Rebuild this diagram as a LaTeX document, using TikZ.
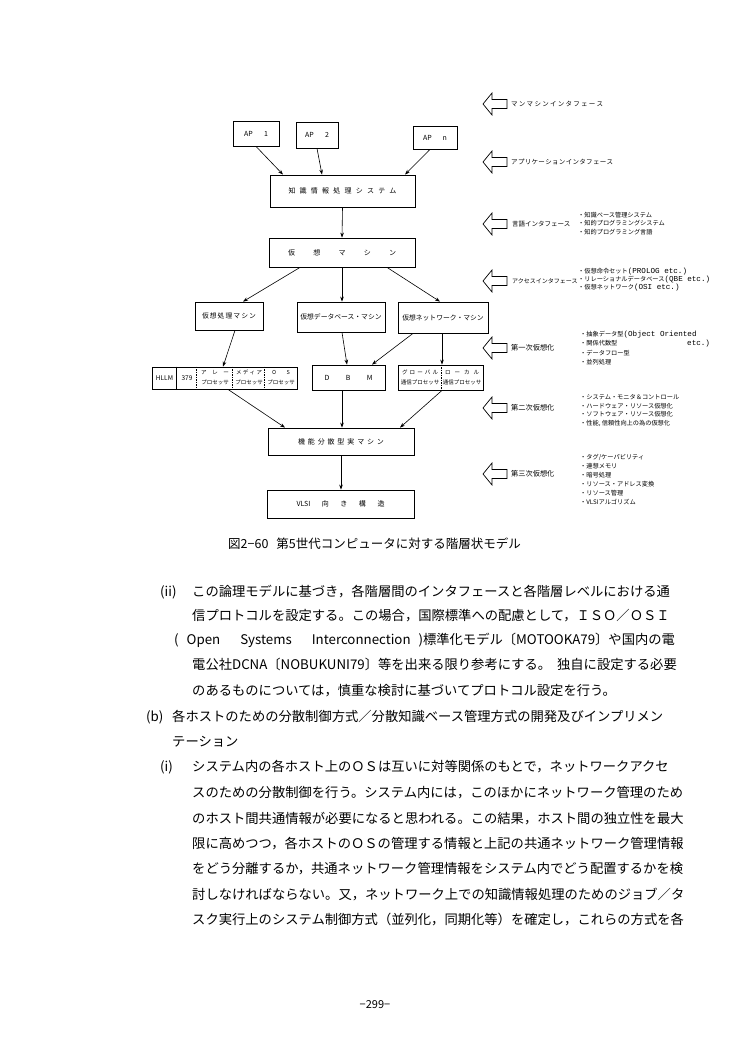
\documentclass[tikz,border=0pt]{standalone}
\usepackage{fontspec}
\setmainfont{Noto Sans CJK JP}
\newfontfamily\latmono{Liberation Mono}
\usetikzlibrary{arrows.meta}
\XeTeXlinebreaklocale "ja"
\XeTeXlinebreakskip=0pt plus 2pt minus 0.4pt
\newcommand\fs[1]{\fontsize{#1}{#1}\selectfont}
\newcommand\lat[1]{{\latmono\fontsize{7.6}{7.6}\selectfont #1}}
\def\myspaced#1{\myspacedi#1\relax}
\def\myspacedi#1#2{#1\ifx\relax#2\else\hfil\expandafter\myspacedi\expandafter#2\fi}
\newcommand\spreadtxt[2]{\hbox to #1{\myspaced{#2}}}
\newcommand\hollowarrow[1]{\draw[line width=0.7pt,line join=miter] (483,#1) -- (492,#1-11) -- (492,#1-4.5) -- (507,#1-4.5) -- (507,#1+4.5) -- (492,#1+4.5) -- (492,#1+11) -- cycle;}
\begin{document}
\begin{tikzpicture}[x=1pt,y=-1pt,
  box/.style={draw,line width=0.8pt,inner sep=0pt},
  arr/.style={-{Stealth[length=5pt,width=3.6pt]},line width=0.6pt},
  lbl/.style={anchor=west,inner sep=0pt,font=\fs{6.5}},
  big/.style={anchor=west,inner sep=0pt,font=\fs{7.2}},
  bul/.style={anchor=west,inner sep=0pt,font=\fs{6.2}},
  cell/.style={inner sep=0pt,align=center,font=\fontsize{5.5}{9.5}\selectfont},
  body/.style={anchor=base west,inner sep=0pt,font=\fs{13.3}}]
\fill[white] (0,0) rectangle (750,1054);
\useasboundingbox (0,0) rectangle (750,1054);

% ---------- diagram boxes ----------
\node[box,minimum width=46pt,minimum height=25pt,font=\fs{7}] (ap1) at (256,133.5) {\hbox to 24pt{AP\hfil 1}};
\node[box,minimum width=42pt,minimum height=26pt,font=\fs{7}] (ap2) at (317,135) {\hbox to 24pt{AP\hfil 2}};
\node[box,minimum width=44pt,minimum height=23pt,font=\fs{7}] (apn) at (435,137.5) {\hbox to 24pt{AP\hfil n}};
\node[box,minimum width=145pt,minimum height=32pt,font=\fs{7}] (kb) at (342.5,191) {\spreadtxt{108pt}{知識情報処理システム}};
\node[box,minimum width=146pt,minimum height=29pt,font=\fs{7}] (vm) at (342,252.5) {\spreadtxt{108pt}{仮想マシン}};
\node[box,minimum width=68pt,minimum height=28pt,font=\fs{6.8}] (vp) at (229,316) {\spreadtxt{54pt}{仮想処理マシン}};
\node[box,minimum width=88pt,minimum height=30pt,font=\fs{6.8}] (vdb) at (341,317) {仮想データベース・マシン};
\node[box,minimum width=90pt,minimum height=31pt,font=\fs{6.8}] (vnw) at (443,317.5) {仮想ネットワーク・マシン};

\node[box,minimum width=145pt,minimum height=22pt] (comp) at (224.5,378) {};
\draw[line width=0.7pt] ([xshift=25pt]comp.north west) -- ([xshift=25pt]comp.south west);
\draw[dashed,line width=0.6pt,dash pattern=on 1.5pt off 1pt] ([xshift=45pt]comp.north west) -- ([xshift=45pt]comp.south west);
\draw[dashed,line width=0.6pt,dash pattern=on 1.5pt off 1pt] ([xshift=81pt]comp.north west) -- ([xshift=81pt]comp.south west);
\draw[dashed,line width=0.6pt,dash pattern=on 1.5pt off 1pt] ([xshift=113pt]comp.north west) -- ([xshift=113pt]comp.south west);
\node[inner sep=0pt,font=\fs{6.5}] (c1) at (164.5,378) {HLLM};
\node[inner sep=0pt,font=\fs{6.5}] (c2) at (187,378) {379};
\node[cell] (c3) at (215,377.5) {\hbox to 28pt{ア\hfil レ\hfil ー}\\プロセッサ};
\node[cell] (c4) at (249,377.5) {\hbox to 26pt{メ\hfil デ\hfil ィ\hfil ア}\\プロセッサ};
\node[cell] (c5) at (281,377.5) {\hbox to 18pt{O\hfil S}\\プロセッサ};

\node[box,minimum width=73pt,minimum height=25pt,font=\fs{7}] (dbm) at (348.5,377.5) {\hbox to 48pt{D\hfil B\hfil M}};
\node[box,minimum width=85pt,minimum height=25pt] (gl) at (440.5,377.5) {};
\draw[dashed,line width=0.6pt,dash pattern=on 1.5pt off 1pt] ([xshift=44pt]gl.north west) -- ([xshift=44pt]gl.south west);
\node[cell] (g1) at (420,377.5) {\hbox to 36pt{グ\hfil ロ\hfil ー\hfil バ\hfil ル}\\通信プロセッサ};
\node[cell] (g2) at (462,377.5) {\hbox to 34pt{ロ\hfil ー\hfil カ\hfil ル}\\通信プロセッサ};

\node[box,minimum width=146pt,minimum height=27pt,font=\fs{7}] (fm) at (341,441.5) {\spreadtxt{86pt}{機能分散型実マシン}};
\node[box,minimum width=147pt,minimum height=28pt,font=\fs{7}] (vlsi) at (340.5,504) {\hbox to 88pt{VLSI\hfil 向\hfil き\hfil 構\hfil 造}};

% ---------- connectors ----------
\draw[arr] (ap1.south) -- ([xshift=-59.5pt]kb.north);
\draw[arr] (ap2.south) -- ([xshift=-20.5pt]kb.north);
\draw[arr] ([xshift=-5pt]apn.south) -- ([xshift=62.5pt]kb.north);
\draw[arr] (kb.south) -- (vm.north);
\draw[arr] ([xshift=-42pt]vm.south) -- ([xshift=14pt]vp.north);
\draw[arr] (vm.south) -- (vm.south |- vdb.north);
\draw[arr] ([xshift=45pt]vm.south) -- ([xshift=-3pt]vnw.north);
\draw[arr] ([xshift=6pt]vp.south) -- ([xshift=-1.5pt]comp.north);
\draw[arr] ([xshift=1pt]vdb.south) -- ([xshift=-1.5pt]dbm.north);
\draw[arr] ([xshift=-30pt]vnw.south) -- ([xshift=23.5pt]dbm.north);
\draw[arr] ([xshift=-1pt]vnw.south) -- ([xshift=-1pt]vnw.south |- gl.north);
\draw[arr] ([xshift=3.5pt]comp.south) -- ([xshift=-56pt]fm.north);
\draw[arr] ([xshift=-6.5pt]dbm.south) -- ([xshift=-6.5pt]dbm.south |- fm.north);
\draw[arr] ([xshift=1.5pt]gl.south) -- ([xshift=59pt]fm.north);
\draw[arr] (fm.south) -- (fm.south |- vlsi.north);

% ---------- right side ----------
\hollowarrow{104}
\node[lbl] (r1) at (511,104) {\spreadtxt{92pt}{マンマシンインタフェース}};
\hollowarrow{162}
\node[lbl] (r2) at (511,162) {\spreadtxt{102pt}{アプリケーションインタフェース}};
\hollowarrow{224}
\node[lbl] (r3) at (512,224) {言語インタフェース};
\foreach \t [count=\i] in {・知識ベース管理システム,・知的プログラミングシステム,・知的プログラミング言語}
  \node[bul] (l3-\i) at (578,215+8.5*\i-8.5) {\t};
\hollowarrow{281}
\node[lbl,font=\fs{6}] (r4) at (512,281) {アクセスインタフェース};
\foreach \t [count=\i] in {・仮想命令セット\lat{(PROLOG etc.)},・リレーショナルデータベース\lat{(QBE etc.)},・仮想ネットワーク\lat{(OSI etc.)}}
  \node[bul] (l4-\i) at (578,272+8*\i-8) {\t};
\hollowarrow{348}
\node[big] (r5) at (511,348) {第一次仮想化};
\foreach \t [count=\i] in {・抽象データ型\lat{(Object Oriented},\makebox[107pt][l]{・関係代数型}\lat{etc.)},・データフロー型,・並列処理}
  \node[bul] (l5-\i) at (580,335+9*\i-9) {\t};
\hollowarrow{408}
\node[big] (r6) at (511,408) {第二次仮想化};
\foreach \t [count=\i] in {・システム・モニタ＆コントロール,・ハードウェア・リソース仮想化,・ソフトウェア・リソース仮想化,{・性能, 信頼性向上の為の仮想化}}
  \node[bul] (l6-\i) at (580,397+8.7*\i-8.7) {\t};
\hollowarrow{474}
\node[big] (r7) at (511,474) {第三次仮想化};
\foreach \t [count=\i] in {・タグ/ケーパビリティ,・連想メモリ,・暗号処理,・リソース・アドレス変換,・リソース管理,・VLSIアルゴリズム}
  \node[bul] (l7-\i) at (580,457+9*\i-9) {\t};

% ---------- caption ----------
\node[anchor=base west,inner sep=0pt,font=\fs{12.5}] (cap) at (228,548) {\hbox to 322pt{図2−60\hspace{8pt}第5世代コンピュータに対する階層状モデル}};

% ---------- body text ----------
\node[body] (n1) at (160,596) {(ii)};
\node[body] (t1) at (192,596) {\hbox to 498pt{この論理モデルに基づき，各階層間のインタフェースと各階層レベルにおける通}};
\node[body] (t2) at (192,620) {\hbox to 496pt{信プロトコルを設定する。この場合，国際標準への配慮として，ＩＳＯ／ＯＳＩ}};
\node[body] (t3) at (174,644) {\hbox to 516pt{(\hspace{8pt}Open\hspace{20pt}Systems\hspace{20pt}Interconnection\hspace{8pt})標準化モデル〔MOTOOKA79〕や国内の電}};
\node[body] (t4) at (192,669) {\hbox to 496pt{電公社DCNA〔NOBUKUNI79〕等を出来る限り参考にする。\hspace{6pt}独自に設定する必要}};
\node[body] (t5) at (192,695) {\hbox to 465pt{のあるものについては，慎重な検討に基づいてプロトコル設定を行う。}};
\node[body] (n2) at (146,721) {(b)};
\node[body] (t6) at (172,721) {\hbox to 518pt{各ホストのための分散制御方式／分散知識ベース管理方式の開発及びインプリメン}};
\node[body] (t7) at (172,746) {テーション};
\node[body] (n3) at (160,771) {(i)};
\node[body] (t8) at (192,771) {\hbox to 498pt{システム内の各ホスト上のＯＳは互いに対等関係のもとで，ネットワークアクセ}};
\node[body] (t9) at (192,797) {\hbox to 498pt{スのための分散制御を行う。システム内には，このほかにネットワーク管理のため}};
\node[body] (t10) at (192,823) {\hbox to 498pt{のホスト間共通情報が必要になると思われる。この結果，ホスト間の独立性を最大}};
\node[body] (t11) at (192,848) {\hbox to 498pt{限に高めつつ，各ホストのＯＳの管理する情報と上記の共通ネットワーク管理情報}};
\node[body] (t12) at (192,873) {\hbox to 498pt{をどう分離するか，共通ネットワーク管理情報をシステム内でどう配置するかを検}};
\node[body] (t13) at (192,899) {\hbox to 498pt{討しなければならない。又，ネットワーク上での知識情報処理のためのジョブ／タ}};
\node[body] (t14) at (192,924) {\hbox to 498pt{スク実行上のシステム制御方式（並列化，同期化等）を確定し，これらの方式を各}};

\node[anchor=base,inner sep=0pt,font=\fs{11}] (pg) at (375,1008) {−299−};
\end{tikzpicture}
\end{document}
